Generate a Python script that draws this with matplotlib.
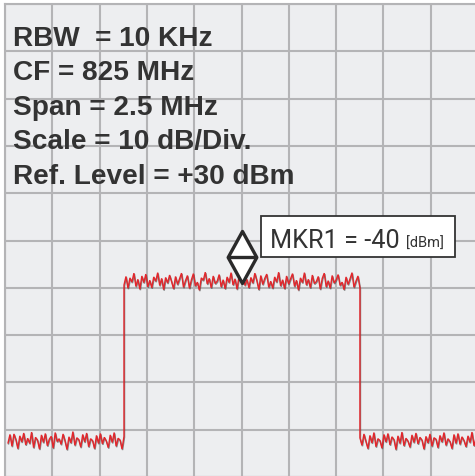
import matplotlib
matplotlib.use('Agg')
import matplotlib.pyplot as plt
import matplotlib.patheffects as pe
from matplotlib.path import Path
from matplotlib.patches import Rectangle
import numpy as np

# analyzer settings
center_freq = 825.0      # MHz
span = 2.5               # MHz
ref_level = 30           # dBm
db_per_div = 10
settings = ["RBW  = 10 KHz", "CF = 825 MHz", "Span = 2.5 MHz",
            "Scale = 10 dB/Div.", "Ref. Level = +30 dBm"]

# trace segments (MHz)
left_start, band_start, band_stop, right_stop = 823.766, 824.379, 825.626, 826.25

left_floor = [-62.8, -61.0, -63.5, -60.9, -62.1, -64.0, -61.3, -62.6, -60.7, -63.2,
              -61.8, -62.9, -60.5, -63.8, -61.6, -62.2, -64.1, -61.1, -62.7, -60.8,
              -63.4, -62.0, -61.4, -63.9, -60.6, -62.5, -61.9, -63.1, -60.9, -62.4,
              -64.2, -61.5, -62.8, -60.4, -63.3, -61.7, -62.1, -63.7, -61.0, -62.6,
              -60.7, -63.6, -61.9, -62.3, -64.0, -61.2, -62.9, -60.8, -63.0, -61.6,
              -62.4, -63.8, -61.1, -62.7, -60.6, -63.5, -61.8, -62.2, -64.1, -61.4]

plateau = [-29.4, -27.6, -30.1, -27.9, -28.8, -26.9, -29.7, -28.2, -30.3, -27.5,
           -28.9, -27.1, -29.8, -28.4, -30.0, -27.7, -28.6, -26.8, -29.5, -28.0,
           -30.4, -27.8, -29.0, -27.3, -28.7, -30.2, -27.6, -29.3, -28.1, -26.9,
           -29.9, -28.5, -27.4, -30.1, -28.3, -27.0, -29.6, -28.8, -30.5, -27.9,
           -28.4, -26.7, -29.2, -28.0, -30.0, -27.5, -29.1, -28.6, -27.2, -29.8,
           -28.3, -30.2, -27.7, -28.9, -26.8, -29.4, -28.1, -30.3, -27.6, -28.7,
           -27.0, -29.5, -28.2, -30.0, -27.8, -29.0, -26.9, -28.5, -30.4, -27.4,
           -29.3, -28.0, -27.1, -29.9, -28.6, -30.1, -27.7, -28.8, -26.7, -29.6,
           -28.3, -30.2, -27.5, -29.2, -28.1, -27.0, -29.7, -28.4, -30.5, -27.9,
           -28.9, -26.8, -29.4, -28.2, -30.0, -27.3, -29.1, -28.7, -27.6, -30.3,
           -28.0, -26.9, -29.8, -28.5, -30.1, -27.4, -29.0, -28.3, -27.2, -29.5,
           -28.8, -30.4, -27.7, -29.3, -28.1, -26.8, -29.9, -28.6, -27.5, -30.0]

right_floor = [-61.7, -63.3, -60.9, -62.5, -64.0, -61.2, -62.8, -60.6, -63.6, -61.9,
               -62.3, -63.9, -61.0, -62.6, -60.8, -63.2, -61.5, -62.1, -64.2, -61.3,
               -62.9, -60.5, -63.4, -61.8, -62.4, -63.7, -61.1, -62.7, -60.7, -63.0,
               -61.6, -62.2, -64.1, -61.4, -62.8, -60.9, -63.5, -61.7, -62.0, -63.8,
               -61.2, -62.6, -60.6, -63.3, -61.9, -62.5, -64.0, -61.0, -62.9, -60.8,
               -63.1, -61.5, -62.3, -63.6, -61.3, -62.7, -60.5, -63.4, -61.8, -62.2]

marker_freq = 825.0
marker_level = -23.5
marker_text = "MKR1 = -40"

freqs = np.concatenate([np.linspace(left_start, band_start, len(left_floor)),
                        np.linspace(band_start, band_stop, len(plateau)),
                        np.linspace(band_stop, right_stop, len(right_floor))])
levels = np.concatenate([left_floor, plateau, right_floor])

fig = plt.figure(figsize=(4.75, 4.77), dpi=100)
ax = fig.add_axes([5/475, -1/477, 473/475, 473/477])
ax.set_facecolor('#edeef0')

f0 = center_freq - span/2
ax.set_xlim(f0, f0 + span)
ax.set_ylim(ref_level - 10*db_per_div, ref_level)
ax.set_xticks(np.arange(f0, f0 + span + 0.01, span/10))
ax.set_yticks(np.arange(ref_level - 10*db_per_div, ref_level + 1, db_per_div))
ax.grid(True, color='#b4b4b6', lw=1.5)
ax.tick_params(length=0, labelbottom=False, labelleft=False)
for s in ax.spines.values():
    s.set_color('#b4b4b6')
    s.set_linewidth(1.5)

ax.plot(freqs, levels, color='#e3262b', lw=1.0, solid_joinstyle='miter',
        path_effects=[pe.SimpleLineShadow(offset=(0.4, -0.7), shadow_color='#444444', alpha=0.6),
                      pe.Normal()], zorder=3)

# marker diamond
diamond = Path([(0, 1), (0.55, 0), (0, -1), (-0.55, 0), (0, 1), (-0.55, 0), (0.55, 0)],
               [Path.MOVETO, Path.LINETO, Path.LINETO, Path.LINETO, Path.CLOSEPOLY,
                Path.MOVETO, Path.LINETO])
ax.plot([marker_freq], [marker_level], marker=diamond, markersize=37.5,
        markerfacecolor='white', markeredgecolor='#2a2a2a', markeredgewidth=2.4, zorder=4)

# marker readout box
ax.add_patch(Rectangle((0.541, 0.465), 0.410, 0.087, transform=ax.transAxes,
                       facecolor='white', edgecolor='#333333', lw=1.3, zorder=5))
fig.text(270/475, 1 - 248/477, marker_text, fontsize=18.2, family='Roboto',
         weight='normal', color='#333333', va='baseline', zorder=6)
fig.text(406/475, 1 - 248/477, "[dBm]", fontsize=10.5, family='Roboto',
         weight='normal', color='#333333', va='baseline', zorder=6)

for i, line in enumerate(settings):
    fig.text(13/475, 1 - (46 + 34.5*i)/477, line, fontsize=20.2, family='Liberation Sans',
             weight='bold', color='#333333', va='baseline')

fig.savefig('out.png', dpi=100, facecolor='white')
